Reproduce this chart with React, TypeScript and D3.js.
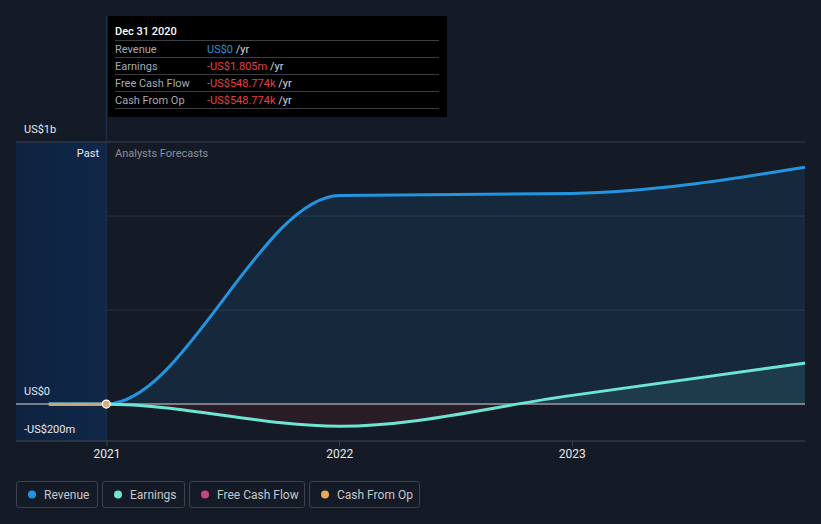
import React from "react";
import * as d3 from "d3";

const W = 821;
const H = 524;

// values in US$ billions, time in fractional years
const revenueT = [2020.75, 2020.997, 2022.0, 2023.0, 2024.0];
const revenueV = [0, 0, 1.11, 1.12, 1.26];
const earningsT = [2020.75, 2020.997, 2022.0, 2023.0, 2024.0];
const earningsV = [-0.0018, -0.0018, -0.118, 0.046, 0.218];
const cashOpT = [2020.75, 2020.997];
const cashOpV = [-0.00055, -0.00055];
const xTicks = [2021, 2022, 2023];
const xTickLabels = ["2021", "2022", "2023"];
const gridVals = [0.5, 1.0];
const yLabels = [
  { v: 1.394, text: "US$1b" },
  { v: 0, text: "US$0" },
  { v: -0.2, text: "-US$200m" },
];
const tooltipRows = [
  { label: "Revenue", value: "US$0", color: "#2394df" },
  { label: "Earnings", value: "-US$1.805m", color: "#e64141" },
  { label: "Free Cash Flow", value: "-US$548.774k", color: "#e64141" },
  { label: "Cash From Op", value: "-US$548.774k", color: "#e64141" },
];
const legendItems = [
  { label: "Revenue", color: "#2394df" },
  { label: "Earnings", color: "#6ce5d3" },
  { label: "Free Cash Flow", color: "#c8447f" },
  { label: "Cash From Op", color: "#e8a951" },
];

const FONT = "Roboto, 'Open Sans', sans-serif";

export default function App() {
  const x = d3.scaleLinear().domain([2020.609, 2024.0]).range([16, 805]);
  const y = d3.scaleLinear().domain([-0.2, 1.394]).range([441.6, 142]);
  const pastX = x(2020.997);

  const rev = revenueT.map((t, i) => ({ t, v: revenueV[i] }));
  const earn = earningsT.map((t, i) => ({ t, v: earningsV[i] }));
  const cop = cashOpT.map((t, i) => ({ t, v: cashOpV[i] }));

  const line = d3
    .line<{ t: number; v: number }>()
    .x((d) => x(d.t))
    .y((d) => y(d.v))
    .curve(d3.curveMonotoneX);
  const area = d3
    .area<{ t: number; v: number }>()
    .x((d) => x(d.t))
    .y0(y(0))
    .y1((d) => y(d.v))
    .curve(d3.curveMonotoneX);

  const zeroY = y(0);

  // legend layout
  const legendWidths = [81, 82, 115, 110];
  let lx = 16;
  const legendPos = legendWidths.map((w) => {
    const p = lx;
    lx += w + 5;
    return p;
  });

  return (
    <svg width={W} height={H} style={{ display: "block", position: "absolute", left: 0, top: 0 }} fontFamily={FONT}>
      <defs>
        <linearGradient id="pastGrad" x1="0" y1="0" x2="1" y2="0">
          <stop offset="0" stopColor="#0f2340" />
          <stop offset="1" stopColor="#0f2748" />
        </linearGradient>
        <clipPath id="above">
          <rect x={pastX} y={0} width={W} height={zeroY} />
        </clipPath>
        <clipPath id="below">
          <rect x={pastX} y={zeroY} width={W} height={H} />
        </clipPath>
        <clipPath id="future">
          <rect x={pastX} y={0} width={W} height={H} />
        </clipPath>
      </defs>
      <rect x={0} y={0} width={W} height={H} fill="#151b26" />

      {/* past region */}
      <rect x={16} y={142} width={pastX - 16} height={441.6 - 142} fill="url(#pastGrad)" />
      <line x1={pastX} x2={pastX} y1={16} y2={441} stroke="#1f3556" strokeWidth={1} />

      {/* gridlines */}
      <line x1={16} x2={805} y1={142} y2={142} stroke="#3a404c" strokeWidth={1} />
      {gridVals.map((g) => (
        <line key={g} x1={pastX} x2={805} y1={y(g)} y2={y(g)} stroke="#2c3340" strokeWidth={1} />
      ))}

      {/* areas */}
      <g clipPath="url(#future)">
        <path d={area(rev) || ""} fill="#2394df" fillOpacity={0.12} />
      </g>
      <g clipPath="url(#above)">
        <path d={area(earn) || ""} fill="#6ce5d3" fillOpacity={0.1} />
      </g>
      <g clipPath="url(#below)">
        <path d={area(earn) || ""} fill="#3a1e26" fillOpacity={0.55} />
      </g>

      {/* zero line */}
      <line x1={16} x2={805} y1={zeroY} y2={zeroY} stroke="#9a9ca3" strokeWidth={1.5} />

      {/* bottom axis */}
      <line x1={16} x2={805} y1={441} y2={441} stroke="#3f4550" strokeWidth={1} />
      {xTicks.map((t, i) => (
        <g key={t}>
          <line x1={x(t)} x2={x(t)} y1={441} y2={446} stroke="#3f4550" />
          <text x={x(t)} y={458} fill="#e6e8ec" fontSize={12} textAnchor="middle">
            {xTickLabels[i]}
          </text>
        </g>
      ))}

      {/* lines */}
      <path d={line(rev) || ""} fill="none" stroke="#2394df" strokeWidth={3} />
      <path d={line(earn) || ""} fill="none" stroke="#6ce5d3" strokeWidth={3} />
      <path d={line(cop) || ""} fill="none" stroke="#c8a77a" strokeWidth={2.5} />
      <circle cx={pastX} cy={y(cashOpV[1])} r={4} fill="#d9b07a" stroke="#ffffff" strokeWidth={1.2} />

      {/* y labels */}
      {yLabels.map((l) => (
        <text key={l.text} x={24} y={y(l.v) - 9} fill="#e6e8ec" fontSize={11}>
          {l.text}
        </text>
      ))}

      <text x={99} y={157} fill="#e6e8ec" fontSize={11} textAnchor="end">
        Past
      </text>
      <text x={115} y={157} fill="#8a909b" fontSize={11}>
        Analysts Forecasts
      </text>

      {/* tooltip */}
      <rect x={108} y={16} width={339} height={101} fill="#000000" />
      <text x={115} y={35} fill="#ffffff" fontSize={11} fontWeight={500}>
        Dec 31 2020
      </text>
      {tooltipRows.map((r, i) => {
        const top = 40 + i * 17;
        return (
          <g key={r.label}>
            <line x1={115} x2={439} y1={top + 0.5} y2={top + 0.5} stroke="#3a3d44" />
            <text x={115} y={top + 13} fill="#a7aab0" fontSize={11}>
              {r.label}
            </text>
            <text x={207} y={top + 13} fontSize={11}>
              <tspan fill={r.color}>{r.value}</tspan>
              <tspan fill="#d8dade"> /yr</tspan>
            </text>
          </g>
        );
      })}
      <line x1={115} x2={439} y1={108.5} y2={108.5} stroke="#3a3d44" />

      {/* legend */}
      {legendItems.map((it, i) => (
        <g key={it.label}>
          <rect
            x={legendPos[i] + 0.5}
            y={481.5}
            width={legendWidths[i]}
            height={26}
            rx={2.5}
            fill="none"
            stroke="#3c414b"
          />
          <circle cx={legendPos[i] + 16} cy={494.5} r={4} fill={it.color} />
          <text x={legendPos[i] + 28} y={498.5} fill="#c4c7cd" fontSize={12}>
            {it.label}
          </text>
        </g>
      ))}
    </svg>
  );
}
